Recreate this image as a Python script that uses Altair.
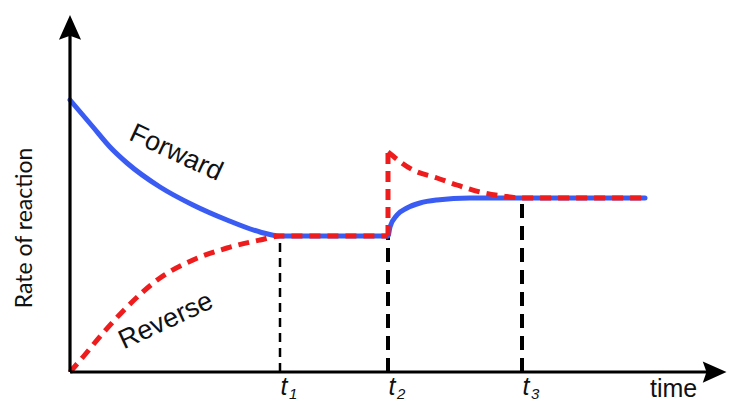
import altair as alt
import pandas as pd

# ---- data (time and rate in arbitrary units) ----
fwd_time = [0.0, 2.3, 4.0, 5.7, 9.0, 12.3, 15.7, 19.0, 21.0, 31.8, 32.0, 32.7, 33.7, 35.0, 36.7, 40.0, 45.2, 57.5]
fwd_rate = [27.2, 24.5, 22.5, 20.9, 18.5, 16.7, 15.2, 14.0, 13.6, 13.6, 14.5, 15.7, 16.4, 16.9, 17.2, 17.4, 17.4, 17.4]

rev_time_a = [0.0, 1.3, 3.3, 5.7, 9.0, 12.3, 15.7, 19.0, 21.0, 31.8]
rev_rate_a = [0.0, 1.5, 3.9, 6.5, 9.4, 11.2, 12.4, 13.2, 13.6, 13.6]
rev_time_b = [31.8, 34.3, 36.7, 38.7, 41.0, 43.3, 45.2, 57.5]
rev_rate_b = [22.0, 20.2, 19.4, 18.7, 18.0, 17.6, 17.4, 17.4]

# disturbance jump of the reverse rate at t2
jump_time = [31.8]
jump_low = [13.6]
jump_high = [22.0]

# marker times t1, t2, t3 and the rate where the dashed guide starts
marker_time = [21.0, 31.8, 45.2]
marker_rate = [13.6, 13.6, 17.4]
marker_sub = ["1", "2", "3"]

# axis extents
x_axis_end = 64.4
y_axis_end = 34.4

x_scale = alt.Scale(domain=[-6.2, 65.7], nice=False, zero=False)
y_scale = alt.Scale(domain=[-3.0, 36.4], nice=False, zero=False)

BLUE = "#3a5cf2"
RED = "#ee1c1c"


def X(field="t"):
    return alt.X(f"{field}:Q", scale=x_scale, axis=None)


def Y(field="r"):
    return alt.Y(f"{field}:Q", scale=y_scale, axis=None)


fwd_df = pd.DataFrame({"t": fwd_time, "r": fwd_rate, "i": range(len(fwd_time))})
rev_df = pd.DataFrame({
    "t": rev_time_a + rev_time_b,
    "r": rev_rate_a + rev_rate_b,
    "seg": ["a"] * len(rev_time_a) + ["b"] * len(rev_time_b),
})
jump_df = pd.DataFrame({"t": jump_time, "r0": jump_low, "r1": jump_high})
guide_df = pd.DataFrame({"t": marker_time, "r0": [0.0] * 3, "r1": marker_rate})

# dashed black guides
guide_thin = alt.Chart(guide_df.iloc[[0]]).mark_rule(
    color="black", strokeWidth=2.5, strokeDash=[9, 6]
).encode(x=X(), y=Y("r0"), y2="r1:Q")
guide_thick = alt.Chart(guide_df.iloc[[1, 2]]).mark_rule(
    color="black", strokeWidth=4, strokeDash=[14, 8]
).encode(x=X(), y=Y("r0"), y2="r1:Q")

# curves
forward = alt.Chart(fwd_df).mark_line(
    color=BLUE, strokeWidth=5, interpolate="monotone", strokeCap="round"
).encode(x=X(), y=Y(), order="i:Q")
reverse = alt.Chart(rev_df).mark_line(
    color=RED, strokeWidth=5, interpolate="monotone", strokeDash=[11, 7]
).encode(x=X(), y=Y(), detail="seg:N")
jump = alt.Chart(jump_df).mark_rule(
    color=RED, strokeWidth=5, strokeDash=[11, 7]
).encode(x=X(), y=Y("r0"), y2="r1:Q")

# axes with arrowheads
axes_df = pd.DataFrame({"t0": [0.0, 0.0], "t1": [0.0, x_axis_end],
                        "r0": [0.0, 0.0], "r1": [y_axis_end, 0.0]})
axes = alt.Chart(axes_df).mark_rule(color="black", strokeWidth=3.2).encode(
    x=X("t0"), x2="t1:Q", y=Y("r0"), y2="r1:Q"
)
up_arrow = alt.Chart(pd.DataFrame({"t": [0.0], "r": [y_axis_end]})).mark_point(
    shape="M0,-1L0.85,0.9L0,0.6L-0.85,0.9Z", size=676, filled=True,
    color="black", opacity=1, strokeWidth=0
).encode(x=X(), y=Y())
right_arrow = alt.Chart(pd.DataFrame({"t": [x_axis_end], "r": [0.0]})).mark_point(
    shape="M1,0L-0.9,-0.85L-0.6,0L-0.9,0.85Z", size=625, filled=True,
    color="black", opacity=1, strokeWidth=0
).encode(x=X(), y=Y())

# labels
fwd_lbl = alt.Chart(pd.DataFrame({"t": [10.6], "r": [21.9], "s": ["Forward"]})).mark_text(
    font="Liberation Sans", fontSize=27, angle=25, align="center", baseline="middle", color="#111"
).encode(x=X(), y=Y(), text="s:N")
rev_lbl = alt.Chart(pd.DataFrame({"t": [9.6], "r": [5.1], "s": ["Reverse"]})).mark_text(
    font="Liberation Sans", fontSize=27, angle=335, align="center", baseline="middle", color="#111"
).encode(x=X(), y=Y(), text="s:N")
ylab = alt.Chart(pd.DataFrame({"t": [-4.5], "r": [14.4], "s": ["Rate of reaction"]})).mark_text(
    font="Lato", fontSize=23, angle=270, align="center", baseline="middle", color="#111"
).encode(x=X(), y=Y(), text="s:N")
xlab = alt.Chart(pd.DataFrame({"t": [58.0], "r": [-2.5], "s": ["time"]})).mark_text(
    font="Liberation Sans", fontSize=25, align="left", baseline="alphabetic", color="#111"
).encode(x=X(), y=Y(), text="s:N")

tl_df = pd.DataFrame({"t": [m + 0.4 for m in marker_time], "r": [-2.3] * 3, "s": ["t"] * 3})
t_lbl = alt.Chart(tl_df).mark_text(
    font="Liberation Sans", fontSize=25, fontStyle="italic", align="center",
    baseline="alphabetic", color="#111"
).encode(x=X(), y=Y(), text="s:N")
sub_df = pd.DataFrame({"t": [m + 0.9 for m in marker_time], "r": [-2.7] * 3, "s": marker_sub})
sub_lbl = alt.Chart(sub_df).mark_text(
    font="Liberation Sans", fontSize=15, fontStyle="italic", align="left",
    baseline="alphabetic", color="#111"
).encode(x=X(), y=Y(), text="s:N")

chart = alt.layer(
    guide_thin, guide_thick, forward, reverse, jump, axes, up_arrow, right_arrow,
    fwd_lbl, rev_lbl, ylab, xlab, t_lbl, sub_lbl
).properties(
    width=719, height=394,
    autosize=alt.AutoSizeParams(type="none"),
    padding=0,
    background="white",
).configure_view(stroke=None)

chart.save("out.html", embed_options={"renderer": "svg", "actions": False})
